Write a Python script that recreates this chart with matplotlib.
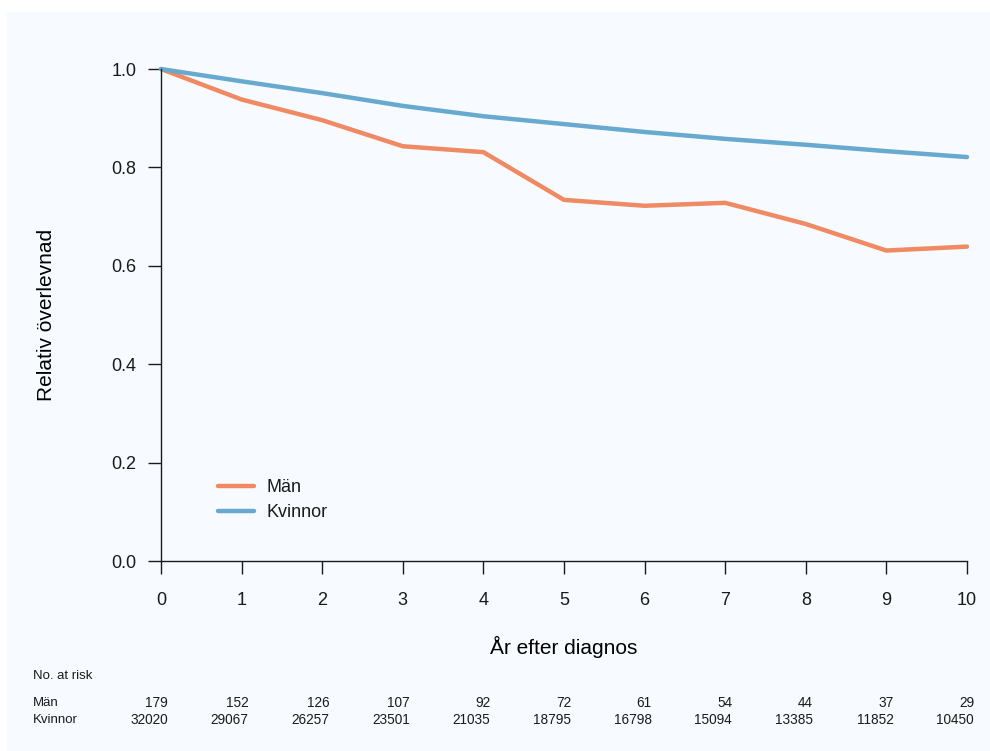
import matplotlib
matplotlib.use("Agg")
import matplotlib.pyplot as plt
from matplotlib.patches import Rectangle

years = [0, 1, 2, 3, 4, 5, 6, 7, 8, 9, 10]
man = [1.0, 0.938, 0.896, 0.843, 0.831, 0.734, 0.722, 0.728, 0.685, 0.631, 0.639]
kvinnor = [1.0, 0.975, 0.951, 0.925, 0.904, 0.888, 0.872, 0.858, 0.846, 0.833, 0.821]
risk_man = [179, 152, 126, 107, 92, 72, 61, 54, 44, 37, 29]
risk_kvinnor = [32020, 29067, 26257, 23501, 21035, 18795, 16798, 15094, 13385, 11852, 10450]
yticks = [0.0, 0.2, 0.4, 0.6, 0.8, 1.0]

ORANGE = "#ef8a62"; BLUE = "#67a9cf"; PANEL = "#f7fbff"; INK = "#1a1a1a"
plt.rcParams.update({"font.family": ["Liberation Sans", "DejaVu Sans"], "text.color": INK})

W, H = 990, 751
fig = plt.figure(figsize=(W / 100, H / 100), dpi=100)
fig.patch.set_facecolor("white")
fig.add_artist(Rectangle((7 / W, 0), 1 - 7 / W, 1 - 12 / H, transform=fig.transFigure,
                         facecolor=PANEL, edgecolor="none", zorder=0))

L, R, B, T = 161, 967, 561, 69
ax = fig.add_axes([L / W, 1 - B / H, (R - L) / W, (B - T) / H])
ax.patch.set_alpha(0)
ax.set_xlim(0, 10); ax.set_ylim(0, 1)
ax.plot(years, man, color=ORANGE, lw=3.2, solid_capstyle="round", clip_on=False, label="Män")
ax.plot(years, kvinnor, color=BLUE, lw=3.2, solid_capstyle="round", clip_on=False, label="Kvinnor")
for s in ("top", "right"): ax.spines[s].set_visible(False)
for s in ("left", "bottom"):
    ax.spines[s].set_linewidth(1.0); ax.spines[s].set_color(INK)
ax.set_xticks(years); ax.set_yticks(yticks)
ax.set_yticklabels(["%.1f" % v for v in yticks])
ax.tick_params(axis="y", length=9.5, width=1.0, pad=8, labelsize=13, colors=INK)
ax.tick_params(axis="x", length=9, width=1.0, pad=13, labelsize=13, colors=INK)
ax.set_ylabel("Relativ överlevnad", fontsize=15, labelpad=40)
ax.set_xlabel("År efter diagnos", fontsize=15, labelpad=20)

ax.legend(loc="upper left", bbox_to_anchor=(0.05, 0.2), frameon=False, fontsize=13,
          handlelength=2.0, handletextpad=0.7, labelspacing=0.45)

# number at risk table
fig.text(33 / W, 1 - 676 / H, "No. at risk", fontsize=9.5, va="center", ha="left")
for row, (name, vals) in enumerate([("Män", risk_man), ("Kvinnor", risk_kvinnor)]):
    yy = 1 - (703 + 17 * row) / H
    fig.text(33 / W, yy, name, fontsize=9.5, va="center", ha="left")
    for x, v in zip(years, vals):
        xp = (L + (R - L) * x / 10 + 7) / W
        fig.text(xp, yy, str(v), fontsize=9.8, va="center", ha="right")

fig.savefig("out.png", dpi=100)
